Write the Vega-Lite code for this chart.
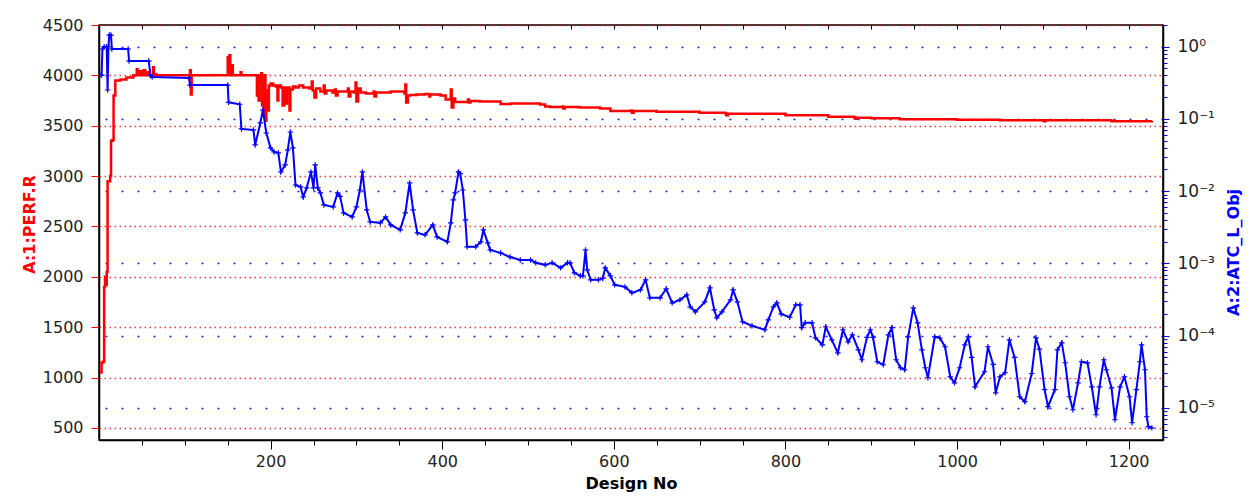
{
  "$schema": "https://vega.github.io/schema/vega-lite/v6.json",
  "width": 1064,
  "height": 415,
  "autosize": {"type": "none"},
  "padding": {"left": 99, "top": 25, "right": 88, "bottom": 63},
  "background": "white",
  "config": {"view": {"stroke": "black", "strokeWidth": 1.5}, "font": "DejaVu Sans"},
  "datasets": {
    "perf": [
      {"design":1,"perf":1050},{"design":3,"perf":1150},{"design":5,"perf":1160},{"design":6,"perf":1900},{"design":7,"perf":2000},{"design":8,"perf":1920},{"design":9,"perf":2050},{"design":10,"perf":2950},{"design":13,"perf":3000},{"design":14,"perf":3350},{"design":16,"perf":3360},{"design":17,"perf":3800},{"design":19,"perf":3950},{"design":25,"perf":3960},{"design":32,"perf":3980},{"design":40,"perf":4000},{"design":44,"perf":4060},{"design":45,"perf":4000},{"design":48,"perf":4040},{"design":50,"perf":4000},{"design":52,"perf":4050},{"design":54,"perf":4000},{"design":57,"perf":4030},{"design":58,"perf":4000},{"design":63,"perf":4080},{"design":64,"perf":4000},{"design":66,"perf":4010},{"design":67,"perf":4000},{"design":105,"perf":4000},{"design":106,"perf":4050},{"design":107,"perf":3810},{"design":108,"perf":4000},{"design":149,"perf":4000},{"design":150,"perf":4180},{"design":151,"perf":4050},{"design":152,"perf":4200},{"design":153,"perf":4000},{"design":155,"perf":4100},{"design":156,"perf":4000},{"design":165,"perf":4030},{"design":166,"perf":4000},{"design":183,"perf":4000},{"design":184,"perf":3800},{"design":185,"perf":4000},{"design":186,"perf":3750},{"design":187,"perf":3950},{"design":189,"perf":4020},{"design":190,"perf":3700},{"design":191,"perf":3900},{"design":192,"perf":3600},{"design":193,"perf":4000},{"design":194,"perf":3550},{"design":195,"perf":3850},{"design":196,"perf":3650},{"design":198,"perf":3900},{"design":200,"perf":3920},{"design":203,"perf":3900},{"design":206,"perf":3890},{"design":208,"perf":3750},{"design":209,"perf":3900},{"design":212,"perf":3880},{"design":214,"perf":3700},{"design":216,"perf":3880},{"design":218,"perf":3720},{"design":219,"perf":3880},{"design":222,"perf":3650},{"design":223,"perf":3860},{"design":226,"perf":3890},{"design":229,"perf":3880},{"design":233,"perf":3900},{"design":238,"perf":3880},{"design":245,"perf":3870},{"design":248,"perf":3940},{"design":249,"perf":3850},{"design":251,"perf":3780},{"design":253,"perf":3870},{"design":258,"perf":3840},{"design":262,"perf":3900},{"design":263,"perf":3820},{"design":265,"perf":3850},{"design":272,"perf":3830},{"design":275,"perf":3860},{"design":276,"perf":3800},{"design":278,"perf":3840},{"design":287,"perf":3840},{"design":290,"perf":3870},{"design":291,"perf":3790},{"design":293,"perf":3840},{"design":297,"perf":3830},{"design":299,"perf":3930},{"design":300,"perf":3740},{"design":302,"perf":3870},{"design":305,"perf":3830},{"design":311,"perf":3820},{"design":320,"perf":3840},{"design":321,"perf":3790},{"design":323,"perf":3830},{"design":334,"perf":3830},{"design":340,"perf":3840},{"design":356,"perf":3820},{"design":357,"perf":3910},{"design":358,"perf":3730},{"design":360,"perf":3800},{"design":363,"perf":3805},{"design":370,"perf":3810},{"design":380,"perf":3815},{"design":385,"perf":3790},{"design":386,"perf":3810},{"design":398,"perf":3800},{"design":404,"perf":3760},{"design":408,"perf":3760},{"design":410,"perf":3860},{"design":411,"perf":3680},{"design":413,"perf":3770},{"design":415,"perf":3735},{"design":430,"perf":3760},{"design":431,"perf":3730},{"design":433,"perf":3745},{"design":444,"perf":3740},{"design":460,"perf":3740},{"design":468,"perf":3715},{"design":480,"perf":3720},{"design":500,"perf":3720},{"design":514,"perf":3710},{"design":520,"perf":3690},{"design":526,"perf":3685},{"design":540,"perf":3690},{"design":541,"perf":3670},{"design":543,"perf":3685},{"design":560,"perf":3680},{"design":584,"perf":3670},{"design":596,"perf":3645},{"design":620,"perf":3650},{"design":621,"perf":3630},{"design":623,"perf":3645},{"design":650,"perf":3640},{"design":700,"perf":3630},{"design":730,"perf":3625},{"design":731,"perf":3605},{"design":733,"perf":3620},{"design":747,"perf":3620},{"design":800,"perf":3605},{"design":850,"perf":3590},{"design":880,"perf":3585},{"design":881,"perf":3570},{"design":883,"perf":3580},{"design":900,"perf":3575},{"design":933,"perf":3565},{"design":1000,"perf":3560},{"design":1050,"perf":3555},{"design":1100,"perf":3555},{"design":1101,"perf":3545},{"design":1103,"perf":3555},{"design":1150,"perf":3555},{"design":1180,"perf":3545},{"design":1227,"perf":3550}
    ],
    "atc": [
      {"design":1,"atc":0.406},{"design":3,"atc":0.406},{"design":4,"atc":0.93},{"design":6,"atc":1.0},{"design":9,"atc":1.0},{"design":10,"atc":0.252},{"design":11,"atc":1.0},{"design":12,"atc":1.45},{"design":14,"atc":1.45},{"design":15,"atc":0.93},{"design":34,"atc":0.93},{"design":35,"atc":0.634},{"design":58,"atc":0.634},{"design":60,"atc":0.40},{"design":62,"atc":0.38},{"design":105,"atc":0.369},{"design":106,"atc":0.295},{"design":150,"atc":0.295},{"design":151,"atc":0.17},{"design":164,"atc":0.16},{"design":166,"atc":0.0728},{"design":180,"atc":0.0705},{"design":182,"atc":0.0437},{"design":188,"atc":0.0881},{"design":191,"atc":0.133},{"design":195,"atc":0.064},{"design":200,"atc":0.0397},{"design":204,"atc":0.035},{"design":209,"atc":0.0339},{"design":212,"atc":0.0185},{"design":217,"atc":0.0231},{"design":220,"atc":0.0373},{"design":223,"atc":0.0661},{"design":226,"atc":0.0397},{"design":229,"atc":0.0122},{"design":235,"atc":0.01146},{"design":238,"atc":0.00833},{"design":242,"atc":0.0111},{"design":247,"atc":0.0185},{"design":250,"atc":0.0111},{"design":252,"atc":0.0231},{"design":255,"atc":0.0111},{"design":258,"atc":0.0095},{"design":262,"atc":0.00647},{"design":273,"atc":0.00607},{"design":278,"atc":0.00946},{"design":281,"atc":0.0085},{"design":285,"atc":0.00501},{"design":295,"atc":0.00441},{"design":300,"atc":0.00607},{"design":304,"atc":0.0104},{"design":307,"atc":0.0185},{"design":312,"atc":0.00551},{"design":316,"atc":0.00376},{"design":328,"atc":0.00365},{"design":334,"atc":0.00441},{"design":340,"atc":0.00342},{"design":351,"atc":0.00292},{"design":357,"atc":0.00501},{"design":362,"atc":0.01303},{"design":366,"atc":0.00551},{"design":371,"atc":0.00265},{"design":380,"atc":0.00249},{"design":389,"atc":0.00342},{"design":394,"atc":0.00233},{"design":406,"atc":0.00199},{"design":410,"atc":0.00365},{"design":413,"atc":0.00759},{"design":415,"atc":0.00946},{"design":419,"atc":0.0185},{"design":421,"atc":0.0175},{"design":424,"atc":0.0104},{"design":427,"atc":0.00401},{"design":429,"atc":0.0017},{"design":439,"atc":0.0017},{"design":445,"atc":0.00199},{"design":448,"atc":0.00292},{"design":453,"atc":0.00193},{"design":456,"atc":0.00154},{"design":468,"atc":0.0014},{"design":479,"atc":0.00123},{"design":491,"atc":0.00112},{"design":503,"atc":0.00112},{"design":509,"atc":0.00102},{"design":520,"atc":0.000957},{"design":528,"atc":0.00102},{"design":538,"atc":0.000869},{"design":546,"atc":0.00102},{"design":549,"atc":0.00102},{"design":554,"atc":0.000741},{"design":561,"atc":0.000674},{"design":564,"atc":0.000674},{"design":567,"atc":0.00154},{"design":569,"atc":0.000817},{"design":573,"atc":0.000593},{"design":582,"atc":0.000593},{"design":587,"atc":0.00062},{"design":590,"atc":0.000869},{"design":596,"atc":0.000674},{"design":601,"atc":0.000506},{"design":613,"atc":0.000474},{"design":621,"atc":0.000392},{"design":631,"atc":0.000431},{"design":637,"atc":0.000593},{"design":642,"atc":0.000334},{"design":654,"atc":0.000334},{"design":661,"atc":0.000446},{"design":668,"atc":0.000285},{"design":677,"atc":0.000314},{"design":685,"atc":0.000368},{"design":689,"atc":0.000251},{"design":695,"atc":0.000214},{"design":706,"atc":0.000294},{"design":712,"atc":0.00046},{"design":717,"atc":0.000228},{"design":720,"atc":0.000177},{"design":726,"atc":0.000214},{"design":736,"atc":0.000314},{"design":739,"atc":0.00043},{"design":744,"atc":0.000294},{"design":750,"atc":0.000156},{"design":761,"atc":0.000137},{"design":776,"atc":0.000121},{"design":780,"atc":0.000166},{"design":786,"atc":0.000251},{"design":790,"atc":0.000285},{"design":795,"atc":0.0002},{"design":805,"atc":0.00018},{"design":812,"atc":0.000268},{"design":817,"atc":0.000268},{"design":819,"atc":0.000129},{"design":823,"atc":0.000151},{"design":831,"atc":0.000151},{"design":835,"atc":0.0000935},{"design":843,"atc":0.0000748},{"design":847,"atc":0.000133},{"design":854,"atc":0.0000877},{"design":861,"atc":0.000058},{"design":867,"atc":0.000121},{"design":873,"atc":0.0000824},{"design":878,"atc":0.000103},{"design":885,"atc":0.0000638},{"design":889,"atc":0.0000465},{"design":895,"atc":0.000095},{"design":899,"atc":0.000121},{"design":902,"atc":0.000095},{"design":907,"atc":0.0000436},{"design":914,"atc":0.0000396},{"design":920,"atc":0.000103},{"design":924,"atc":0.000129},{"design":929,"atc":0.0000465},{"design":934,"atc":0.000036},{"design":939,"atc":0.0000338},{"design":943,"atc":0.0000966},{"design":949,"atc":0.000243},{"design":954,"atc":0.000151},{"design":959,"atc":0.0000638},{"design":963,"atc":0.000036},{"design":966,"atc":0.0000262},{"design":974,"atc":0.0000966},{"design":980,"atc":0.000093},{"design":986,"atc":0.0000703},{"design":992,"atc":0.000027},{"design":997,"atc":0.0000223},{"design":1003,"atc":0.000036},{"design":1009,"atc":0.0000748},{"design":1013,"atc":0.0000966},{"design":1017,"atc":0.00005},{"design":1021,"atc":0.0000196},{"design":1032,"atc":0.0000317},{"design":1036,"atc":0.0000703},{"design":1042,"atc":0.00004},{"design":1045,"atc":0.0000162},{"design":1050,"atc":0.000027},{"design":1056,"atc":0.0000307},{"design":1061,"atc":0.0000877},{"design":1067,"atc":0.00005},{"design":1073,"atc":0.0000143},{"design":1079,"atc":0.0000122},{"design":1087,"atc":0.00003},{"design":1092,"atc":0.0000935},{"design":1096,"atc":0.000065},{"design":1102,"atc":0.0000179},{"design":1106,"atc":0.0000104},{"design":1114,"atc":0.0000179},{"design":1117,"atc":0.0000638},{"design":1122,"atc":0.0000798},{"design":1126,"atc":0.0000422},{"design":1131,"atc":0.0000143},{"design":1135,"atc":0.00000944},{"design":1141,"atc":0.0000223},{"design":1145,"atc":0.0000436},{"design":1152,"atc":0.000042},{"design":1157,"atc":0.0000196},{"design":1162,"atc":0.00000805},{"design":1166,"atc":0.0000196},{"design":1171,"atc":0.0000465},{"design":1174,"atc":0.0000338},{"design":1180,"atc":0.000019},{"design":1184,"atc":0.00000687},{"design":1190,"atc":0.0000196},{"design":1195,"atc":0.000027},{"design":1201,"atc":0.0000143},{"design":1204,"atc":0.00000624},{"design":1209,"atc":0.0000179},{"design":1213,"atc":0.0000436},{"design":1215,"atc":0.0000748},{"design":1219,"atc":0.0000338},{"design":1221,"atc":0.00000755},{"design":1223,"atc":0.0000055},{"design":1227,"atc":0.0000053}
    ]
  },
  "layer": [
    {
      "data": {"name": "perf"},
      "mark": {"type": "line", "color": "#ff0000", "strokeWidth": 2.5, "interpolate": "step-after", "clip": true},
      "encoding": {
        "x": {
          "field": "design", "type": "quantitative",
          "scale": {"domain": [0, 1240], "nice": false, "zero": false},
          "axis": {
            "values": [50,100,150,200,250,300,350,400,450,500,550,600,650,700,750,800,850,900,950,1000,1050,1100,1150,1200],
            "labelExpr": "datum.value % 200 == 0 ? datum.label : ''",
            "format": "d",
            "grid": false,
            "title": "Design No",
            "titleFontSize": 16, "titleFontWeight": "bold", "titleColor": "black", "titlePadding": 6,
            "labelFontSize": 16, "labelColor": "#222", "labelPadding": 4, "labelFlush": false, "labelOverlap": false,
            "tickColor": "black", "domainColor": "black", "domainWidth": 1.5,
            "tickSize": {"condition": {"test": "datum.value % 200 == 0", "value": 9}, "value": 5}
          }
        },
        "y": {
          "field": "perf", "type": "quantitative",
          "scale": {"domain": [380, 4500], "nice": false, "zero": false},
          "axis": {
            "values": [500,1000,1500,2000,2500,3000,3500,4000,4500],
            "format": "d",
            "title": "A:1:PERF.R", "titleColor": "#ff0000", "titleFontWeight": "bold", "titleFontSize": 16,
            "titleX": -62, "titleY": 199, "titleAngle": -90, "titleBaseline": "bottom",
            "grid": true, "gridColor": "#ff0000", "gridDash": [1.5, 3.5], "gridWidth": 1.5, "gridOpacity": 0.8,
            "tickColor": "#ff0000", "tickSize": 8, "labelPadding": 8,
            "labelFontSize": 16, "labelColor": "#222",
            "domainColor": "black", "domainWidth": 1.5
          }
        }
      }
    },
    {
      "data": {"name": "atc"},
      "mark": {"type": "line", "color": "#0000ff", "strokeWidth": 2, "interpolate": "linear", "clip": true,
               "point": {"shape": "M-1,0H1M0,-1V1", "filled": false, "stroke": "#0000ff", "strokeWidth": 1.2, "size": 30}},
      "encoding": {
        "x": {
          "field": "design", "type": "quantitative",
          "scale": {"domain": [0, 1240], "nice": false, "zero": false},
          "axis": {
            "orient": "top", "labels": false, "title": null, "domain": false, "grid": false,
            "values": [50,100,150,200,250,300,350,400,450,500,550,600,650,700,750,800,850,900,950,1000,1050,1100,1150,1200],
            "tickColor": "black", "tickSize": -4
          }
        },
        "y": {
          "field": "atc", "type": "quantitative",
          "scale": {"type": "log", "domain": [0.0000036, 2], "nice": false},
          "axis": {
            "orient": "right",
            "values": [0.000004,0.000005,0.000006,0.000007,0.000008,0.000009,0.00001,0.00002,0.00003,0.00004,0.00005,0.00006,0.00007,0.00008,0.00009,0.0001,0.0002,0.0003,0.0004,0.0005,0.0006,0.0007,0.0008,0.0009,0.001,0.002,0.003,0.004,0.005,0.006,0.007,0.008,0.009,0.01,0.02,0.03,0.04,0.05,0.06,0.07,0.08,0.09,0.1,0.2,0.3,0.4,0.5,0.6,0.7,0.8,0.9,1,2],
            "labelExpr": "abs(log(datum.value)/LN10 - round(log(datum.value)/LN10)) < 0.001 ? '10' + ['⁰','⁻¹','⁻²','⁻³','⁻⁴','⁻⁵','⁻⁶'][-round(log(datum.value)/LN10)] : ''",
            "labelOverlap": false, "labelFlush": false,
            "title": "A:2:ATC_L_Obj", "titleColor": "#0000ff", "titleFontWeight": "bold", "titleFontSize": 16,
            "titleX": 78, "titleY": 227, "titleAngle": -90, "titleBaseline": "bottom",
            "grid": true, "gridColor": "#0000ff", "gridDash": [2, 14], "gridWidth": 1.5,
            "gridOpacity": {"condition": {"test": "abs(log(datum.value)/LN10 - round(log(datum.value)/LN10)) < 0.001", "value": 0.9}, "value": 0},
            "tickColor": "#0000ff",
            "tickSize": {"condition": {"test": "abs(log(datum.value)/LN10 - round(log(datum.value)/LN10)) < 0.001", "value": 6}, "value": 4},
            "labelPadding": 8, "labelFontSize": 17, "labelColor": "#222",
            "domainColor": "black", "domainWidth": 1.5
          }
        }
      }
    }
  ],
  "resolve": {"scale": {"y": "independent", "x": "independent"}}
}
